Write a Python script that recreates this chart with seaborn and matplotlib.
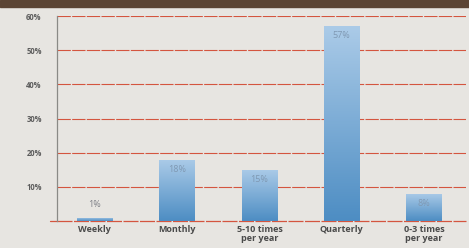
import numpy as np
import pandas as pd
import seaborn as sns
import matplotlib.pyplot as plt
from matplotlib.colors import LinearSegmentedColormap

# Chart data
categories = ["Weekly", "Monthly", "5-10 times\nper year", "Quarterly", "0-3 times\nper year"]
shares = [1, 18, 15, 57, 8]
value_labels = ["1%", "18%", "15%", "57%", "8%"]
y_ticks = [10, 20, 30, 40, 50, 60]
y_tick_labels = ["10%", "20%", "30%", "40%", "50%", "60%"]

df = pd.DataFrame({"Frequency": categories, "Share": shares})

sns.set_style("white")
plt.rcParams["font.family"] = ["Open Sans", "DejaVu Sans"]

bg = "#e7e5e1"
grid_red = "#d4553f"
fig = plt.figure(figsize=(4.69, 2.48), dpi=100, facecolor=bg)
ax = fig.add_axes([57 / 469, 27 / 248, 409 / 469, 205 / 248])
ax.set_facecolor(bg)

# Brown banner across the top
fig.patches.append(plt.Rectangle((0, 241 / 248), 1, 7 / 248, transform=fig.transFigure,
                                 color="#5b4434", zorder=0))

sns.barplot(data=df, x="Frequency", y="Share", width=0.43, color="#6fa3d2",
            ax=ax, zorder=3)

# Replace flat bars with a vertical gradient (light top -> darker bottom)
cmap = LinearSegmentedColormap.from_list("bar", ["#4d8dc3", "#abcbe8"])
grad = np.linspace(0, 1, 256).reshape(-1, 1)
for patch in ax.patches:
    x0, y0 = patch.get_x(), patch.get_y()
    w, h = patch.get_width(), patch.get_height()
    patch.set_facecolor("none")
    patch.set_edgecolor("none")
    im = ax.imshow(grad, cmap=cmap, aspect="auto", origin="lower",
                   extent=[x0, x0 + w, y0, y0 + h], zorder=3)
    im.set_clip_path(patch)

# Value labels
for i, (v, lab) in enumerate(zip(shares, value_labels)):
    if v < 5:
        ax.text(i, v + 2.5, lab, ha="center", va="bottom", fontsize=6.5,
                color="#7d7f86", zorder=5)
    else:
        ax.text(i, v - 1.5, lab, ha="center", va="top", fontsize=6.5,
                color="#7f98b2", zorder=5)

ax.set_xlim(-0.46, 4.51)
ax.set_ylim(0, 60)
ax.set_yticks(y_ticks)
ax.set_yticklabels(y_tick_labels)
ax.yaxis.grid(True, color=grid_red, linewidth=0.8, linestyle=(0, (12, 1.2)))
ax.set_axisbelow(True)
ax.axhline(0, color=grid_red, linewidth=0.9, linestyle=(0, (12, 1.2)), zorder=2,
           clip_on=False)
ax.plot([-0.55, -0.46], [0, 0], color=grid_red, linewidth=0.9, clip_on=False)

for side in ["top", "right", "bottom"]:
    ax.spines[side].set_visible(False)
ax.spines["left"].set_color("#8a8a86")
ax.spines["left"].set_linewidth(0.9)

ax.tick_params(axis="y", length=5, color=grid_red, width=0.8, pad=6,
               labelsize=5.5, labelcolor="#5c5c5c")
ax.tick_params(axis="x", length=0, pad=3, labelsize=6.5, labelcolor="#4a4a4a")
for t in ax.get_yticklabels() + ax.get_xticklabels():
    t.set_fontweight("bold")
for t in ax.get_xticklabels():
    t.set_linespacing(0.95)

ax.set_xlabel("")
ax.set_ylabel("")

fig.savefig("out.png", dpi=100, facecolor=bg)
